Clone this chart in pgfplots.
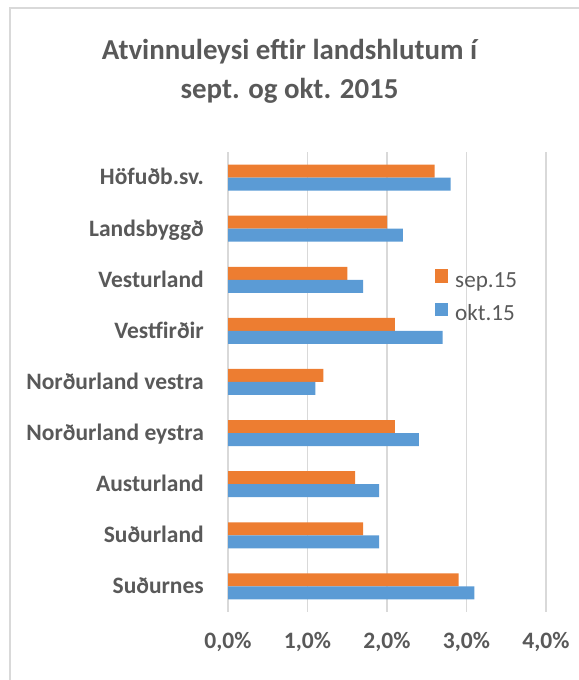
\documentclass[border=0pt]{standalone}
\usepackage{fontspec}
\setmainfont{Carlito}
\usepackage{pgfplots}
\pgfplotsset{compat=1.18}
\definecolor{txt}{HTML}{595959}
\definecolor{gridc}{HTML}{D9D9D9}
\definecolor{cor}{HTML}{ED7D31}
\definecolor{cbl}{HTML}{5B9BD5}
\begin{document}
\begin{tikzpicture}[x=1bp,y=1bp]
\useasboundingbox (0,0) rectangle (579,680);
\draw[gridc, line width=1.5bp] (10,-20) -- (10,672) -- (620,672);
\node[font=\fontsize{29}{35}\selectfont\bfseries, text=txt, anchor=base] at (289.5,620.5) {Atvinnuleysi eftir landshlutum í};
\node[font=\fontsize{29}{35}\selectfont\bfseries, text=txt, anchor=base] at (289.5,581) {sept. og okt. 2015};
\begin{axis}[
  at={(228bp,68bp)}, anchor=south west, scale only axis,
  width=318bp, height=460bp,
  xbar, bar width=13bp,
  xmin=0, xmax=4, ymin=-0.5, ymax=8.5,
  xtick={0,1,2,3,4},
  xticklabels={{0,0\%},{1,0\%},{2,0\%},{3,0\%},{4,0\%}},
  ytick={0,1,2,3,4,5,6,7,8},
  yticklabels={Suðurnes,Suðurland,Austurland,Norðurland eystra,Norðurland vestra,Vestfirðir,Vesturland,Landsbyggð,Höfuðb.sv.},
  /pgf/number format/assume math mode=true,
  xmajorgrids, ymajorgrids=false,
  major grid style={gridc, line width=1.3bp},
  axis line style={draw=none},
  major tick length=0pt, tick style={draw=none},
  ticklabel style={font=\fontsize{23.6}{28}\selectfont\bfseries, text=txt, inner sep=0pt},
  xticklabel style={anchor=north, yshift=-20bp},
  yticklabel style={anchor=base east, xshift=-24bp, yshift=-7.4bp},
  legend style={draw=none, fill=none, inner sep=0pt, at={(0.651,0.745)}, anchor=north west,
    font=\fontsize{23.2}{28}\selectfont, text=txt, row sep=11bp,
    nodes={inner sep=0pt, text height=16bp, text depth=5bp},
    /tikz/every odd column/.append style={column sep=7bp}},
  legend cell align=left,
]
\addplot[fill=cor, draw=none, bar shift=6.5bp,
  legend image code/.code={\fill[cor] (0bp,-1bp) rectangle (13bp,12bp);}]
  coordinates {(2.9,0) (1.7,1) (1.6,2) (2.1,3) (1.2,4) (2.1,5) (1.5,6) (2.0,7) (2.6,8)};
\addplot[fill=cbl, draw=none, bar shift=-6.5bp,
  legend image code/.code={\fill[cbl] (0bp,-1bp) rectangle (13bp,12bp);}]
  coordinates {(3.1,0) (1.9,1) (1.9,2) (2.4,3) (1.1,4) (2.7,5) (1.7,6) (2.2,7) (2.8,8)};
\legend{sep.15,okt.15}
\end{axis}
\end{tikzpicture}
\end{document}
